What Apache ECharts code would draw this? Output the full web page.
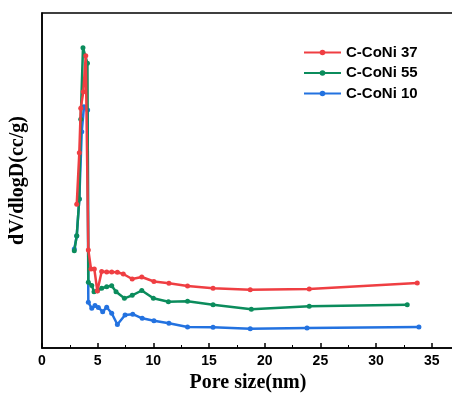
<!DOCTYPE html>
<html>
<head>
<meta charset="utf-8">
<script src="https://cdn.jsdelivr.net/npm/echarts@6/dist/echarts.min.js"></script>
<style>
  html, body { margin: 0; padding: 0; background: #fff; }
  #chart { width: 452px; height: 394px; }
</style>
</head>
<body>
<div id="chart"></div>
<script>
// 孔径 (nm) 与 dV/dlogD 数据
const names = ['C-CoNi 37', 'C-CoNi 55', 'C-CoNi 10'];
const colors = ['#EF3E42', '#0B8C5C', '#2372E0'];

const x37 = [3.12, 3.35, 3.48, 3.71, 3.93, 4.16, 4.4, 4.7, 4.97, 5.36, 5.81, 6.26, 6.77, 7.3, 8.1, 8.96, 10.05, 11.4, 13.07, 15.36, 18.7, 24.0, 33.7];
const y37 = [1.437, 1.953, 2.397, 2.563, 2.923, 0.98, 0.79, 0.79, 0.57, 0.765, 0.76, 0.76, 0.757, 0.74, 0.69, 0.71, 0.665, 0.647, 0.62, 0.597, 0.583, 0.59, 0.65];

const x55 = [2.9, 3.12, 3.35, 3.48, 3.68, 4.08, 4.16, 4.47, 4.67, 4.97, 5.36, 5.81, 6.26, 6.65, 7.4, 8.1, 8.96, 10.0, 11.35, 13.07, 15.36, 18.8, 24.0, 32.8];
const y55 = [0.973, 1.123, 1.49, 2.287, 3.003, 2.847, 0.657, 0.625, 0.563, 0.573, 0.597, 0.613, 0.623, 0.563, 0.497, 0.527, 0.575, 0.497, 0.463, 0.467, 0.433, 0.387, 0.417, 0.433];

const x10 = [2.9, 3.12, 3.35, 3.57, 3.77, 4.1, 4.16, 4.47, 4.76, 5.06, 5.45, 5.81, 6.26, 6.77, 7.46, 8.15, 9.0, 10.05, 11.4, 13.07, 15.36, 18.7, 23.8, 33.85];
const y10 = [0.99, 1.12, 1.49, 2.163, 2.413, 2.38, 0.457, 0.397, 0.425, 0.405, 0.363, 0.407, 0.347, 0.235, 0.33, 0.338, 0.297, 0.273, 0.247, 0.21, 0.207, 0.193, 0.2, 0.21];

const seriesX = [x37, x55, x10];
const seriesY = [y37, y55, y10];

const chart = echarts.init(document.getElementById('chart'));

const option = {
  animation: false,
  backgroundColor: '#fff',
  grid: {
    left: 42, top: 13, width: 412, height: 335,
    outerBoundsMode: 'none',
    show: true, borderColor: '#000', borderWidth: 1.5,
  },
  legend: {
    orient: 'vertical',
    left: 298,
    top: 40,
    itemWidth: 37,
    itemHeight: 7,
    itemGap: 5.5,
    textStyle: { fontFamily: 'Liberation Sans, Arial', fontWeight: 'bold', fontSize: 15, color: '#000' },
    data: names,
  },
  xAxis: {
    type: 'value',
    min: 0,
    max: 37,
    interval: 5,
    name: 'Pore size(nm)',
    nameLocation: 'middle',
    nameGap: 25,
    nameTextStyle: { fontFamily: 'Liberation Serif, Times New Roman', fontWeight: 'bold', fontSize: 20, color: '#000' },
    axisLine: { lineStyle: { color: '#000', width: 1.5 } },
    axisTick: { inside: true, length: 5, lineStyle: { color: '#000', width: 1.5 } },
    minorTick: { show: true, splitNumber: 2, length: 3, lineStyle: { color: '#000', width: 1 } },
    splitLine: { show: false },
    axisLabel: {
      fontFamily: 'Liberation Sans, Arial', fontWeight: 'bold', fontSize: 14, color: '#000', margin: 6,
      formatter: (v) => (v > 35 ? '' : String(v)),
    },
  },
  yAxis: {
    type: 'value',
    min: 0,
    max: 3.35,
    name: 'dV/dlogD(cc/g)',
    nameLocation: 'middle',
    nameGap: 14,
    nameTextStyle: { fontFamily: 'Liberation Serif, Times New Roman', fontWeight: 'bold', fontSize: 20, color: '#000' },
    axisLine: { show: true, lineStyle: { color: '#000', width: 1.5 } },
    axisTick: { show: false },
    axisLabel: { show: false },
    splitLine: { show: false },
  },
  series: names.map((n, i) => ({
    name: n,
    type: 'line',
    data: seriesX[i].map((x, j) => [x, seriesY[i][j]]),
    symbol: 'circle',
    symbolSize: 5,
    color: colors[i],
    lineStyle: { width: 2.5, color: colors[i] },
    itemStyle: { color: colors[i] },
    z: 3 - i,
  })),
};

chart.setOption(option);
</script>
</body>
</html>
